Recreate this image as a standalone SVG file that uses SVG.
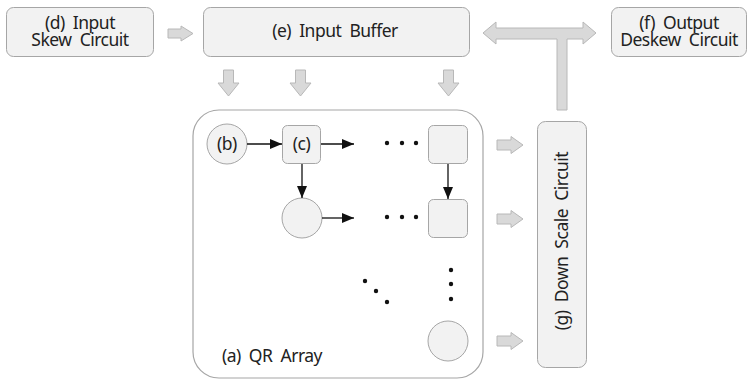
<svg xmlns="http://www.w3.org/2000/svg" width="753" height="380" viewBox="0 0 753 380">
<defs>
<style>
.box{fill:#f2f2f2;stroke:#a6a6a6;stroke-width:1}
.big{fill:#ffffff;stroke:#a6a6a6;stroke-width:1.2}
.blk{fill:#d9d9d9;stroke:#b8b8b8;stroke-width:1}
.t{font-family:"Noto Sans","Open Sans",sans-serif;font-size:17.5px;letter-spacing:-0.5px;fill:#222;text-anchor:middle;white-space:pre}
.ln{stroke:#111;stroke-width:1.3;fill:none}
.dot{fill:#111}
</style>
<marker id="ah" viewBox="0 0 12 10" refX="12" refY="5" markerWidth="12" markerHeight="10" markerUnits="userSpaceOnUse" orient="auto">
<path d="M0,0 L12,5 L0,10 Z" fill="#111"/>
</marker>
</defs>
<rect width="753" height="380" fill="#fff"/>

<g id="qr-array">
<rect class="big" x="193" y="110" width="290" height="268" rx="26"/>
<text class="t" x="272" y="362" xml:space="preserve">(a)  QR  Array</text>
</g>

<g id="node-d">
<rect class="box" x="6.5" y="7.5" width="147" height="49" rx="7"/>
<text class="t" xml:space="preserve"><tspan x="80" y="29">(d)  Input</tspan><tspan x="80" y="46">Skew  Circuit</tspan></text>
</g>
<g id="node-e">
<rect class="box" x="203.5" y="7.5" width="266" height="49" rx="7"/>
<text class="t" x="335" y="37" xml:space="preserve">(e)  Input  Buffer</text>
</g>
<g id="node-f">
<rect class="box" x="611.5" y="7.5" width="135" height="49" rx="7"/>
<text class="t" xml:space="preserve"><tspan x="679" y="29">(f)  Output</tspan><tspan x="679" y="46">Deskew  Circuit</tspan></text>
</g>
<g id="node-g">
<rect class="box" x="537.5" y="121.5" width="49" height="246" rx="8"/>
<text class="t" transform="translate(568,241) rotate(-90)" x="0" y="0" xml:space="preserve">(g)  Down  Scale  Circuit</text>
</g>

<g id="node-b">
<circle class="box" cx="227" cy="144" r="20"/>
<text class="t" x="227" y="150">(b)</text>
</g>
<g id="node-c">
<rect class="box" x="282.5" y="125.5" width="38" height="38" rx="5"/>
<text class="t" x="301.5" y="150">(c)</text>
</g>
<g id="pe-r1">
<rect class="box" x="428.5" y="125.5" width="39" height="38" rx="5"/>
</g>
<g id="pe-r2">
<rect class="box" x="428.5" y="199.5" width="39" height="38" rx="5"/>
</g>
<g id="pe-c2">
<circle class="box" cx="302" cy="218" r="20"/>
</g>
<g id="pe-last">
<circle class="box" cx="448" cy="341" r="20"/>
</g>

<g id="dots">
<circle class="dot" cx="387" cy="143" r="2.2"/>
<circle class="dot" cx="402" cy="143" r="2.2"/>
<circle class="dot" cx="416" cy="143" r="2.2"/>
<circle class="dot" cx="387" cy="217" r="2.2"/>
<circle class="dot" cx="402" cy="217" r="2.2"/>
<circle class="dot" cx="416" cy="217" r="2.2"/>
<circle class="dot" cx="365" cy="281" r="2.2"/>
<circle class="dot" cx="376" cy="291" r="2.2"/>
<circle class="dot" cx="387" cy="302" r="2.2"/>
<circle class="dot" cx="451" cy="270" r="2.2"/>
<circle class="dot" cx="451" cy="284" r="2.2"/>
<circle class="dot" cx="451" cy="299" r="2.2"/>
</g>

<g id="connectors">
<line class="ln" x1="247" y1="144" x2="282" y2="144" marker-end="url(#ah)"/>
<line class="ln" x1="321" y1="144" x2="354" y2="144" marker-end="url(#ah)"/>
<line class="ln" x1="302" y1="164" x2="302" y2="198" marker-end="url(#ah)"/>
<line class="ln" x1="322" y1="218" x2="354" y2="218" marker-end="url(#ah)"/>
<line class="ln" x1="448" y1="164" x2="448" y2="199" marker-end="url(#ah)"/>

<path class="blk" d="M168,29 H181 V26 L193,33.5 L181,41 V38 H168 Z"/>
<path class="blk" d="M223.5,70 H233.5 V83 H239 L228.5,96 L218,83 H223.5 Z"/>
<path class="blk" d="M295.5,70 H305.5 V83 H311 L300.5,96 L290,83 H295.5 Z"/>
<path class="blk" d="M443.5,70 H453.5 V83 H459 L448.5,96 L438,83 H443.5 Z"/>
<path class="blk" d="M497,140 H511 V136.5 L523,145 L511,153.5 V150 H497 Z"/>
<path class="blk" d="M497,214 H511 V210.5 L523,219 L511,227.5 V224 H497 Z"/>
<path class="blk" d="M497,336 H511 V332.5 L523,341 L511,349.5 V346 H497 Z"/>
<path class="blk" d="M483,33 L496,22 V28 H583 V22 L596,33 L583,44 V39 H567 V110 H557 V39 H496 V44 Z"/>
</g>
</svg>
